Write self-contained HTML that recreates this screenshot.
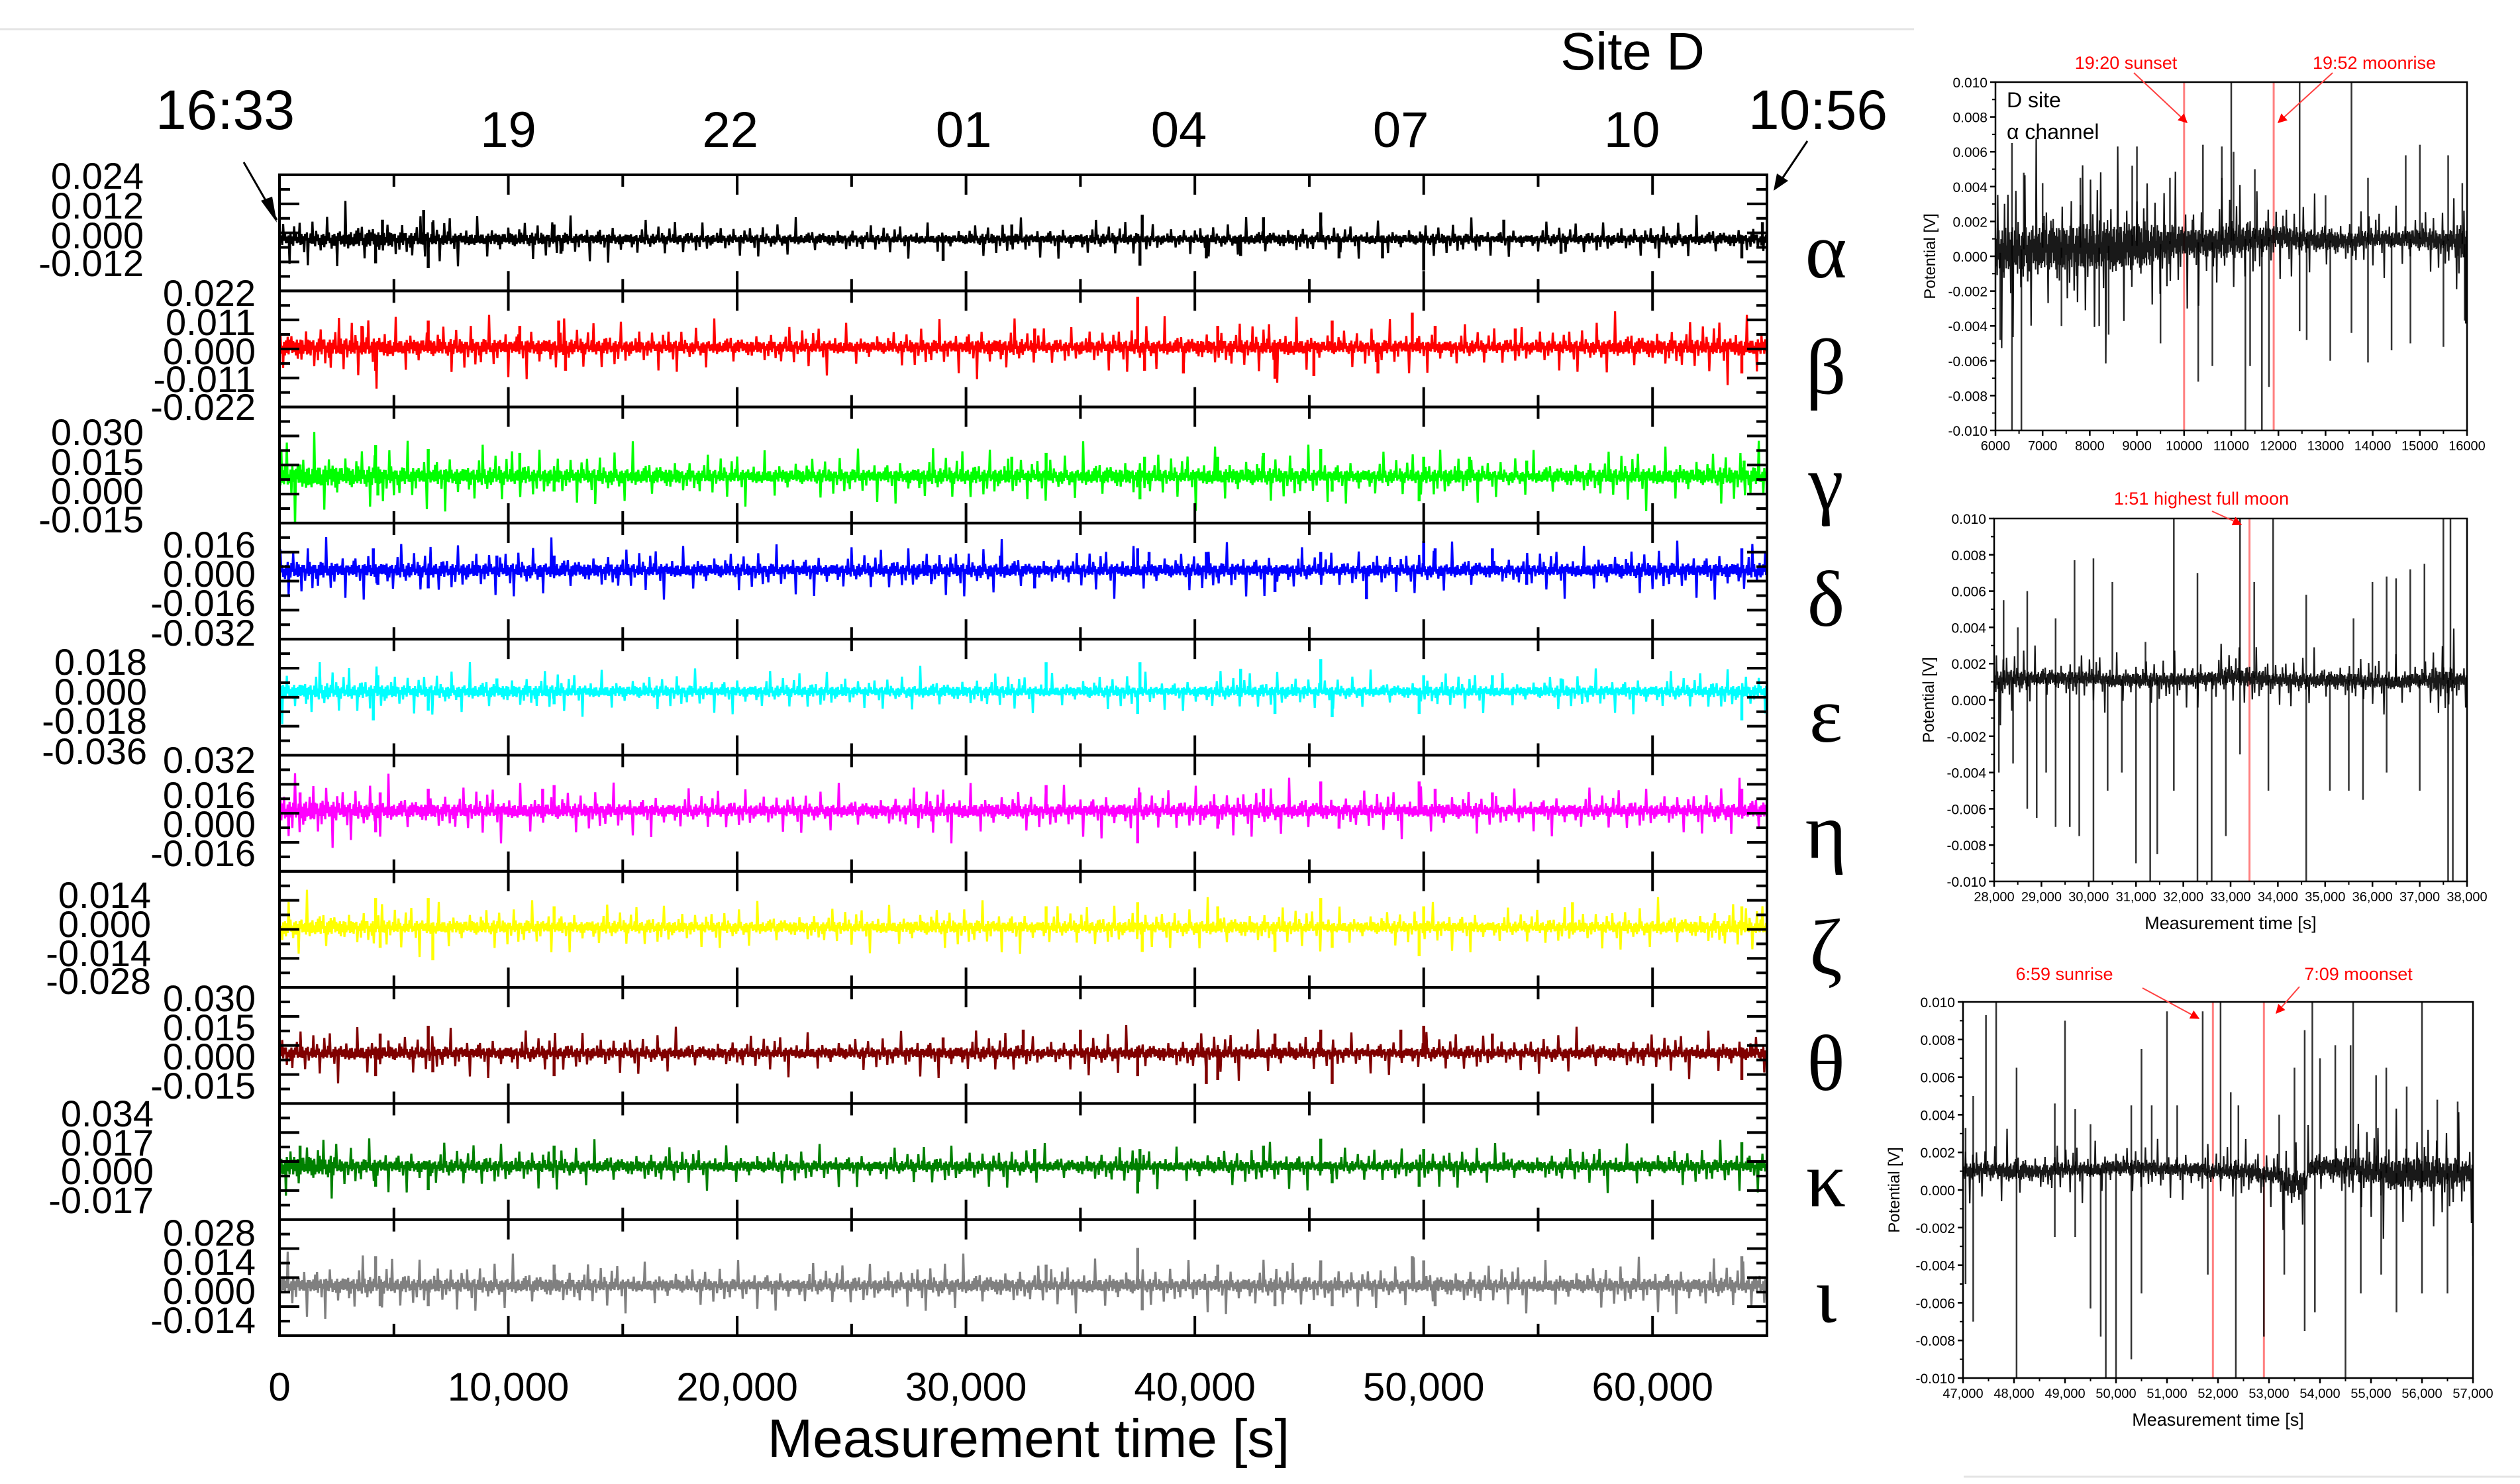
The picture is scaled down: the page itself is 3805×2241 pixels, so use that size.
<!DOCTYPE html>
<html><head><meta charset="utf-8"><style>
html,body{margin:0;padding:0;background:#fff}
svg{display:block}
text{font-family:"Liberation Sans",sans-serif}
</style></head><body>
<svg id="fig" width="3805" height="2241" viewBox="0 0 3805 2241" xmlns="http://www.w3.org/2000/svg">
<line x1="0" y1="44" x2="2890" y2="44" stroke="#e4e4e4" stroke-width="3"/>
<g id="main"></g>
<g id="side"></g>
</svg>
<script>
// ===== main chart data =====
const channelNames = ["alpha","beta","gamma","delta","epsilon","eta","zeta","theta","kappa","iota"];
const channelGlyphs = ["α","β","γ","δ","ε","η","ζ","θ","κ","ι"];
const channelColors = ["#000000","#ff0000","#00ff00","#0000ff","#00ffff","#ff00ff","#ffff00","#800000","#008000","#808080"];
const tickSteps = [0.012,0.011,0.015,0.016,0.018,0.016,0.014,0.015,0.017,0.014];
const tickLabels = [
 ["0.024","0.012","0.000","-0.012"],
 ["0.022","0.011","0.000","-0.011","-0.022"],
 ["0.030","0.015","0.000","-0.015"],
 ["0.016","0.000","-0.016","-0.032"],
 ["0.018","0.000","-0.018","-0.036"],
 ["0.032","0.016","0.000","-0.016"],
 ["0.014","0.000","-0.014","-0.028"],
 ["0.030","0.015","0.000","-0.015"],
 ["0.034","0.017","0.000","-0.017"],
 ["0.028","0.014","0.000","-0.014"]];
const xTicks = [0,10000,20000,30000,40000,50000,60000];
const xTickLabels = ["0","10,000","20,000","30,000","40,000","50,000","60,000"];
const hourLabels = ["19","22","01","04","07","10"];
const hourTimes = [10000,19700,29900,39300,49000,59100];
// noise envelopes (volts), one value per 2500 s bin, 0..65000
const envAlpha  =[.0030,.0035,.0030,.0025,.0026,.0024,.0022,.0020,.0020,.0020,.0018,.0018,.0022,.0020,.0022,.0018,.0020,.0022,.0018,.0020,.0022,.0018,.0020,.0020,.0022,.0022,.0026];
const envBeta   =[.0035,.0035,.0030,.0030,.0030,.0028,.0026,.0024,.0024,.0024,.0022,.0026,.0030,.0022,.0026,.0026,.0028,.0030,.0024,.0026,.0024,.0022,.0026,.0030,.0030,.0032,.0036];
const envGamma  =[.0060,.0050,.0045,.0045,.0040,.0040,.0040,.0035,.0035,.0035,.0035,.0040,.0040,.0035,.0040,.0035,.0040,.0040,.0035,.0035,.0040,.0030,.0035,.0040,.0040,.0045,.0055];
const envDelta  =[.0045,.0040,.0040,.0040,.0040,.0038,.0036,.0035,.0035,.0035,.0035,.0040,.0038,.0030,.0035,.0035,.0038,.0035,.0030,.0035,.0035,.0030,.0035,.0040,.0040,.0040,.0045];
const envEps    =[.0050,.0045,.0040,.0040,.0040,.0035,.0035,.0035,.0035,.0035,.0030,.0035,.0035,.0030,.0035,.0030,.0035,.0035,.0030,.0030,.0035,.0030,.0035,.0035,.0035,.0040,.0050];
const envEta    =[.0060,.0045,.0040,.0040,.0040,.0038,.0036,.0034,.0034,.0034,.0034,.0040,.0040,.0035,.0038,.0035,.0040,.0040,.0035,.0035,.0040,.0030,.0035,.0035,.0035,.0040,.0045];
const envZeta   =[.0040,.0035,.0032,.0032,.0032,.0030,.0030,.0028,.0028,.0028,.0028,.0032,.0032,.0028,.0030,.0028,.0032,.0030,.0026,.0028,.0030,.0026,.0028,.0030,.0032,.0035,.0040];
const envTheta  =[.0035,.0035,.0032,.0032,.0032,.0030,.0030,.0028,.0028,.0028,.0028,.0032,.0032,.0025,.0032,.0030,.0032,.0032,.0026,.0028,.0030,.0026,.0030,.0030,.0030,.0032,.0040];
const envKappa  =[.0060,.0040,.0038,.0038,.0038,.0035,.0035,.0032,.0032,.0032,.0030,.0035,.0035,.0030,.0035,.0030,.0035,.0035,.0030,.0030,.0035,.0030,.0032,.0035,.0035,.0038,.0050];
const envIota   =[.0040,.0040,.0036,.0034,.0034,.0032,.0030,.0030,.0030,.0030,.0030,.0034,.0034,.0030,.0034,.0030,.0034,.0034,.0030,.0030,.0034,.0030,.0032,.0034,.0034,.0036,.0045];
const envelopes = [envAlpha,envBeta,envGamma,envDelta,envEps,envEta,envZeta,envTheta,envKappa,envIota];
// spikes [time s, volts]
const spikesAlpha=[[4200,-.010],[4500,.008],[6300,.012],[6500,-.012],[6700,.007],[12300,-.006],[12000,.006],[29000,-.009],[32000,.006],[37600,-.011],[37700,.010],[40500,-.008],[42000,-.007],[43000,.009],[45500,.011],[46300,-.008],[48200,-.008],[50000,-.013],[53500,.008],[56000,-.006],[63900,-.008],[64800,.007]];
const spikesBeta=[[3600,.008],[4200,-.009],[6500,.010],[10500,.008],[12200,.010],[12500,-.009],[33000,.007],[37500,.019],[37800,-.009],[39500,-.010],[41000,.008],[43500,-.012],[45200,-.011],[46000,.010],[48000,-.010],[49500,.013],[50500,.008],[54000,.007],[63900,-.010]];
const spikesGamma=[[900,.006],[4200,.016],[4300,-.010],[6500,.014],[10500,.012],[12000,-.008],[32000,.010],[33500,.012],[37600,-.012],[37800,.010],[41000,.010],[43000,.012],[45500,.014],[46000,-.008],[49800,-.013],[50000,.010],[52000,.010],[54500,.008],[64000,.008]];
const spikesDelta=[[4100,.012],[4300,-.008],[6500,-.010],[9500,.008],[12000,.008],[28500,-.006],[31500,.008],[33000,-.010],[37500,.012],[38000,.010],[40500,.010],[43500,-.012],[45500,.010],[47500,-.016],[50000,.016],[50500,.012],[53000,.012],[54500,-.008],[63900,.012]];
const spikesEps=[[4100,-.018],[4300,.010],[6500,-.012],[9500,.008],[12000,-.008],[33500,.018],[37500,-.014],[37600,.018],[42000,.014],[43500,-.014],[45500,.020],[46000,-.016],[49800,-.014],[50000,.010],[53000,.010],[56000,.008],[63900,-.018]];
const spikesEta=[[900,.010],[4200,-.012],[4400,.010],[6500,.012],[11500,.012],[12000,.014],[28500,-.006],[33500,.014],[37500,-.018],[37600,.010],[41000,-.010],[43000,.012],[45500,.016],[46300,-.010],[49800,.016],[50500,.012],[53000,.010],[63900,.012]];
const spikesZeta=[[4200,.014],[4400,-.010],[6500,.014],[6700,-.016],[12000,.010],[33500,.010],[37500,.012],[37700,-.012],[41000,.010],[43500,-.012],[45500,.014],[46000,-.010],[49800,-.014],[50000,.010],[56500,.012],[63900,.010]];
const spikesTheta=[[4200,-.012],[4400,.010],[6500,.014],[6700,-.010],[12000,-.012],[29000,.008],[32500,.012],[35000,.012],[37500,-.012],[40500,-.016],[41000,-.014],[43500,.010],[45500,.012],[46000,-.016],[49000,.012],[50000,.014],[53000,.010],[63900,-.014]];
const spikesKappa=[[900,.012],[4200,-.012],[6500,-.014],[12000,.012],[33000,.010],[37500,-.016],[37600,.010],[43000,.012],[45500,.016],[46000,-.010],[49800,-.012],[50000,.010],[53500,.008],[63900,.014]];
const spikesIota=[[4200,.014],[4400,-.010],[6500,-.010],[12000,.010],[33500,.010],[37500,.018],[37700,-.012],[41000,.010],[43500,-.010],[45500,.012],[46000,-.010],[49500,.014],[50000,.012],[50500,-.010],[63900,.014]];
const spikes = [spikesAlpha,spikesBeta,spikesGamma,spikesDelta,spikesEps,spikesEta,spikesZeta,spikesTheta,spikesKappa,spikesIota];
// deterministic zigzag + burst patterns used to draw the noise band from the envelope
const zig=[1,-0.7,0.5,-1,0.8,-0.3,0.9,-0.8,0.2,-0.6,0.7,-0.9];
const burst=[0.9,0.7,1.0,0.8,2.6,0.8,0.9,0.7,1.6,0.9,0.7,3.8,0.8,1.0,0.7,0.9,2.2,0.8,1.0,0.7,1.3,0.8,3.2,0.9,0.7,1.0,0.8,1.8,0.9,0.7,1.0,4.5,0.8,0.9,1.1,0.7,2.4,0.9,0.8,1.0,1.4];

// ===== side chart data =====
const side1Spikes=[[6100,-.0048],[6350,-.010],[6350,.0065],[6550,-.010],[6600,.0048],[7000,.0042],[7400,-.0040],[7800,.0045],[8200,-.0040],[8400,-.0045],[8900,.0052],[9000,.0063],[9500,-.0050],[9700,.0045],[10300,-.0072],[10400,.0064],[10600,-.0063],[10800,.0063],[11000,.010],[11050,.0060],[11300,-.010],[11400,-.0063],[11500,.0050],[11650,-.010],[11800,-.0075],[12450,.010],[12450,-.0043],[12600,-.0048],[13000,.0035],[13100,-.0060],[13550,.010],[13550,-.0044],[13900,-.0061],[13900,.0045],[14400,-.0054],[14700,.0058],[14800,-.0050],[15000,.0064],[15500,-.0052],[15600,.0058],[15900,.0042],[15950,-.0037]];
const side1Env=[.0016,.0014,.0014,.0014,.0015,.0015,.0014,.0011,.0010,.0009,.0010,.0008,.0007,.0006,.0006,.0005,.0005,.0005,.0006,.0006,.0012];
const side1Base=[.0002,.0004,.0005,.0005,.0005,.0006,.0006,.0007,.0008,.0008,.0009,.0010,.0011,.0010,.0009,.0009,.0010,.0010,.0010,.0009,.0007];
const side2Spikes=[[28100,-.004],[28400,-.0035],[28700,-.006],[28900,-.0065],[29100,-.004],[29300,-.007],[29600,-.007],[29800,-.0075],[30100,-.010],[30400,-.005],[30700,-.004],[31000,-.009],[31300,-.010],[31450,-.0085],[31800,-.005],[32300,-.010],[32600,-.010],[32900,-.0075],[33200,-.003],[33800,-.005],[34600,-.010],[35100,-.005],[35500,-.005],[35800,-.0055],[36300,-.004],[37000,-.005],[37600,-.010],[37700,-.010],[28200,.0055],[28500,.004],[28700,.006],[29300,.0045],[29700,.0077],[30100,.0078],[30500,.0065],[31200,.0032],[31800,.010],[32300,.007],[33200,.010],[33500,.0065],[33900,.010],[34600,.0058],[35600,.0045],[36000,.0065],[36300,.0068],[36500,.0067],[36800,.0072],[37100,.0075],[37500,.010],[37650,.010]];
const side2Env=[.0007,.0005,.0004,.0004,.0004,.0004,.0004,.0004,.0004,.0004,.0005,.0005,.0004,.0004,.0004,.0004,.0004,.0004,.0004,.0007,.0004];
const side2Base=[.0010,.0012,.0012,.0012,.0012,.0011,.0011,.0011,.0011,.0012,.0013,.0012,.0011,.0011,.0011,.0011,.0010,.0010,.0011,.0011,.0011];
const side3Spikes=[[47050,.0033],[47200,.005],[47450,.0093],[47650,.010],[48050,.0065],[48800,.0046],[49000,.009],[49200,.0043],[49500,.0035],[50300,.0045],[50500,.0075],[50700,.0045],[51000,.0095],[51200,.0045],[51700,.0095],[52050,.010],[52250,.0052],[52400,.0045],[53200,.004],[53500,.0065],[53700,.0085],[53850,.010],[54000,.007],[54300,.0077],[54600,.0077],[54650,.010],[55100,.0061],[55300,.0065],[55700,.0055],[56000,.010],[56300,.0048],[56700,.0047],[47050,-.005],[47200,-.007],[48050,-.010],[48800,-.0025],[49200,-.0025],[49500,-.0063],[49700,-.0078],[49800,-.010],[50000,-.010],[50300,-.009],[50500,-.0055],[51800,-.0045],[52350,-.010],[52900,-.0078],[53300,-.0045],[53700,-.0075],[53900,-.0065],[54500,-.010],[54800,-.0055],[55200,-.0045],[55500,-.0065],[56000,-.0055],[56500,-.0055],[57000,-.0035]];
const side3Env=[.0005,.0004,.0005,.0004,.0004,.0004,.0004,.0004,.0004,.0004,.0004,.0005,.0005,.0007,.0005,.0006,.0008,.0009,.0009,.0008,.0007];
const side3Base=[.0010,.0011,.0010,.0010,.0011,.0011,.0012,.0012,.0011,.0011,.0010,.0010,.0008,.0004,.0012,.0012,.0010,.0009,.0009,.0009,.0009];

const NS="http://www.w3.org/2000/svg";
function mk(tag,attrs,parent){const e=document.createElementNS(NS,tag);for(const k in attrs)e.setAttribute(k,attrs[k]);parent.appendChild(e);return e;}

// ===== main chart =====
const main=document.getElementById('main');
const L=422,R=2668,T=264,PH=175.3,XMAX=65000;
const baselines=[361,524,719,861,1044,1224,1400,1590,1761,1941];
const labelRight=[217,386,217,386,222,386,228,386,232,386];
const label0Y=[[265,310,355,397],[442,486,530,572,614],[652,697,741,784],[822,866,910,955],[999,1044,1088,1134],[1147,1200,1244,1288],[1351,1395,1439,1481],[1507,1551,1595,1639],[1681,1725,1768,1812],[1861,1905,1949,1993]];
const xs=t=>L+(t/XMAX)*(R-L);
for(let i=0;i<10;i++){
  const top=T+i*PH, bot=top+PH;
  const ppv=43.9/tickSteps[i];
  const ys=v=>baselines[i]-v*ppv;
  const g=mk('g',{},main);
  
  
  const clipId='clip'+i;
  const cp=mk('clipPath',{id:clipId},g);
  mk('rect',{x:L,y:top,width:R-L,height:PH},cp);
  const env=envelopes[i];
  let d='';
  const step=40;
  for(let t=0,k=0;t<=XMAX;t+=step,k++){
    const b=Math.min(env.length-1,Math.floor(t/2500));
    const v=1.0*env[b]*zig[(k+i*5)%zig.length]*burst[(k+i*7)%burst.length];
    d+=(k?'L':'M')+xs(t).toFixed(1)+' '+ys(v).toFixed(1);
  }
  const tr=mk('path',{d:d,fill:'none',stroke:channelColors[i],'stroke-width':3.2,'stroke-linejoin':'bevel','clip-path':'url(#'+clipId+')'},g);
  
  
  spikes[i].forEach(s=>{
    const ln=mk('line',{x1:xs(s[0]),x2:xs(s[0]),y1:baselines[i],y2:ys(s[1]),stroke:channelColors[i],'stroke-width':4.5,'clip-path':'url(#'+clipId+')'},g);
    
    
  });
  mk('rect',{x:L,y:top,width:R-L,height:PH,fill:'none',stroke:'#000','stroke-width':4},g);
  for(let t=5000;t<XMAX;t+=5000){
    const len=(t%10000===0)?30:18;
    mk('line',{x1:xs(t),x2:xs(t),y1:top,y2:top+len,stroke:'#000','stroke-width':4},g);
    mk('line',{x1:xs(t),x2:xs(t),y1:bot,y2:bot-len,stroke:'#000','stroke-width':4},g);
  }
  for(let k=1;k<8;k++){
    const y=top+k*PH/8, len=(k%2===0)?30:16;
    mk('line',{x1:L,x2:L+len,y1:y,y2:y,stroke:'#000','stroke-width':4},g);
    mk('line',{x1:R,x2:R-len,y1:y,y2:y,stroke:'#000','stroke-width':4},g);
  }
  tickLabels[i].forEach((lab,j)=>{
    const tx=mk('text',{x:labelRight[i],y:label0Y[i][j]+20,'text-anchor':'end','font-size':56},g);
    tx.textContent=lab;
    
    
  });
  const gl=mk('text',{x:2757,y:top+155,'text-anchor':'middle','font-size':120,style:'font-family:"Liberation Serif",serif'},g);
  gl.textContent=channelGlyphs[i];
  
  
}
xTicks.forEach((t,j)=>{
  const tx=mk('text',{x:xs(t),y:2115,'text-anchor':'middle','font-size':60},main);
  tx.textContent=xTickLabels[j];
  
  
});
hourTimes.forEach((t,j)=>{
  const tx=mk('text',{x:xs(t),y:222,'text-anchor':'middle','font-size':76},main);
  tx.textContent=hourLabels[j];
  
  
});
function addText(parent,x,y,s,size,name,extra){const t=mk('text',Object.assign({x:x,y:y,'font-size':size},extra||{}),parent);t.textContent=s;return t;}
addText(main,1553,2200,"Measurement time [s]",82,'x-axis-title',{'text-anchor':'middle'});
addText(main,340,195,"16:33",84,'start-time-label',{'text-anchor':'middle'});
addText(main,2465,105,"Site D",80,'site-label',{'text-anchor':'middle'});
addText(main,2745,195,"10:56",84,'end-time-label',{'text-anchor':'middle'});
mk('defs',{},main).innerHTML='<marker id="ahr" viewBox="0 0 10 10" refX="9" refY="5" markerWidth="14" markerHeight="14" orient="auto" markerUnits="userSpaceOnUse"><path d="M0,0 L10,5 L0,10 z" fill="#f00"/></marker>';
let a1=mk('line',{x1:368,y1:245,x2:418,y2:332,stroke:'#000','stroke-width':3},main);

mk('path',{d:'M418,336 L394,303 L411,297 z',fill:'#000'},main);
let a2=mk('line',{x1:2729,y1:213,x2:2684,y2:280,stroke:'#000','stroke-width':3},main);

mk('path',{d:'M2678,288 L2683,262 L2700,273 z',fill:'#000'},main);

// ===== side charts =====
const side=document.getElementById('side');
function sidePanel(o){
  const g=mk('g',{},side);
  
  
  const sx=t=>o.L+(t-o.x0)/(o.x1-o.x0)*(o.R-o.L);
  const sy=v=>o.B-(v+0.010)/0.020*(o.B-o.T);
  const cid='c'+o.name;
  const cp=mk('clipPath',{id:cid},g);mk('rect',{x:o.L,y:o.T,width:o.R-o.L,height:o.B-o.T},cp);
  o.marks.forEach(m=>{
    const l=mk('line',{x1:sx(m),x2:sx(m),y1:o.T,y2:o.B,stroke:'#ff8080','stroke-width':3},g);
    
  });
  let d='';const n=o.env.length,span=(o.x1-o.x0);
  for(let t=o.x0,k=0;t<=o.x1;t+=12,k++){
    const b=Math.min(n-1,Math.floor((t-o.x0)/span*(n-1)+0.5));
    const v=o.base[b]+o.env[b]*zig[k%zig.length]*burst[k%burst.length];
    d+=(k?'L':'M')+sx(t).toFixed(1)+' '+sy(v).toFixed(1);
  }
  const tr=mk('path',{d:d,fill:'none',stroke:'#000','stroke-width':2.2,'stroke-opacity':0.9,'stroke-linejoin':'bevel','clip-path':'url(#'+cid+')'},g);
  
  o.spikes.forEach(s=>{
    const b=Math.min(n-1,Math.floor((s[0]-o.x0)/span*(n-1)+0.5));
    const l=mk('line',{x1:sx(s[0]),x2:sx(s[0]),y1:sy(o.base[b]),y2:sy(s[1]),stroke:'#000','stroke-width':2.5,'stroke-opacity':0.8,'clip-path':'url(#'+cid+')'},g);
    
  });
  mk('rect',{x:o.L,y:o.T,width:o.R-o.L,height:o.B-o.T,fill:'none',stroke:'#000','stroke-width':2.5},g);
  for(let k=0;k<=10;k++){
    const v=-0.010+k*0.002,y=sy(v);
    mk('line',{x1:o.L-8,x2:o.L,y1:y,y2:y,stroke:'#000','stroke-width':2.5},g);
    if(k<10)mk('line',{x1:o.L-5,x2:o.L,y1:sy(v+0.001),y2:sy(v+0.001),stroke:'#000','stroke-width':2},g);
    addText(g,o.L-12,y+8,v.toFixed(3).replace('-0.000','0.000'),21,'y-tick-label',{'text-anchor':'end'});
  }
  for(let k=0;k<=10;k++){
    const t=o.x0+k*1000,x=sx(t);
    mk('line',{x1:x,x2:x,y1:o.B,y2:o.B+8,stroke:'#000','stroke-width':2.5},g);
    if(k<10)mk('line',{x1:sx(t+500),x2:sx(t+500),y1:o.B,y2:o.B+5,stroke:'#000','stroke-width':2},g);
    addText(g,x,o.B+30,o.comma?t.toLocaleString('en-US'):String(t),20,'x-tick-label',{'text-anchor':'middle'});
  }
  addText(g,0,0,"Potential [V]",24,'y-axis-title',{'text-anchor':'middle',transform:'translate('+o.ylx+','+((o.T+o.B)/2)+') rotate(-90)'});
  if(o.xtitle)addText(g,(o.L+o.R)/2,o.B+72,"Measurement time [s]",27,'x-axis-title',{'text-anchor':'middle'});
  o.notes.forEach(nt=>{
    addText(g,nt.x,nt.y,nt.s,27,'event-annotation',{'text-anchor':'middle',fill:'#ff0000'});
    const a=mk('line',{x1:nt.ax1,y1:nt.ay1,x2:nt.ax2,y2:nt.ay2,stroke:'#ff4040','stroke-width':2,'marker-end':'url(#ahr)'},g);
    
  });
  return g;
}
const p1=sidePanel({name:'sunset-panel',L:3013,R:3725,T:124,B:650,x0:6000,x1:16000,comma:false,ylx:2922,xtitle:false,
  marks:[10000,11900],env:side1Env,base:side1Base,spikes:side1Spikes,
  notes:[{x:3210,y:104,s:"19:20 sunset",ax1:3222,ay1:110,ax2:3302,ay2:185},{x:3585,y:104,s:"19:52 moonrise",ax1:3522,ay1:110,ax2:3440,ay2:185}]});
addText(p1,3030,162,"D site",32,'site-annotation',{});
addText(p1,3030,210,"α channel",32,'channel-annotation',{});
sidePanel({name:'full-moon-panel',L:3011,R:3725,T:783,B:1331,x0:28000,x1:38000,comma:true,ylx:2920,xtitle:true,
  marks:[33400],env:side2Env,base:side2Base,spikes:side2Spikes,
  notes:[{x:3324,y:762,s:"1:51 highest full moon",ax1:3340,ay1:772,ax2:3384,ay2:792}]});
sidePanel({name:'sunrise-panel',L:2964,R:3734,T:1513,B:2081,x0:47000,x1:57000,comma:true,ylx:2868,xtitle:true,
  marks:[51900,52900],env:side3Env,base:side3Base,spikes:side3Spikes,
  notes:[{x:3117,y:1480,s:"6:59 sunrise",ax1:3235,ay1:1492,ax2:3320,ay2:1538},{x:3561,y:1480,s:"7:09 moonset",ax1:3472,ay1:1490,ax2:3437,ay2:1530}]});
mk('line',{x1:2965,y1:2230,x2:3805,y2:2230,stroke:'#e4e4e4','stroke-width':3},side);
</script>
</body></html>
